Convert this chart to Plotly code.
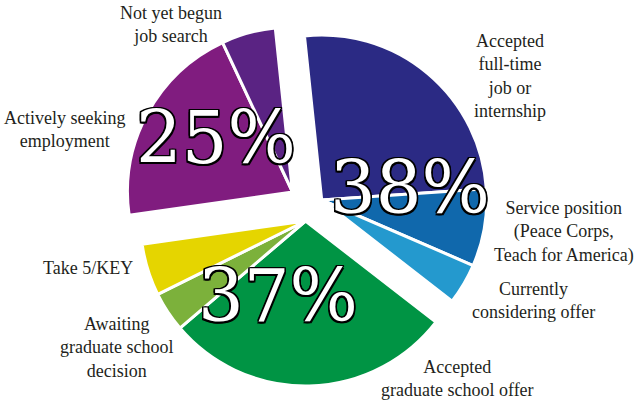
import plotly.graph_objects as go

# Data
categories = ["Accepted full-time job or internship",
              "Service position (Peace Corps, Teach for America)",
              "Currently considering offer",
              "Accepted graduate school offer",
              "Awaiting graduate school decision",
              "Take 5/KEY",
              "Actively seeking employment",
              "Not yet begun job search"]
values = [25.6, 7.6, 4.0, 28.3, 3.9, 5.1, 20.3, 5.3]
colors = ["#2B2A84", "#1068AC", "#2499CE", "#009444",
          "#7CB13B", "#E5D500", "#801C7F", "#5A2383"]
groups = [0, 0, 0, 1, 1, 1, 2, 2]
group_labels = ["38%", "37%", "25%"]

W, H = 640, 403
R = 165
centres = [(321.7, 200.0), (305.5, 221.0), (292.5, 192.0)]

fig = go.Figure()
for g, (cx, cy) in enumerate(centres):
    cols = [c if grp == g else "rgba(0,0,0,0)" for c, grp in zip(colors, groups)]
    lw = [3 if grp == g else 0 for grp in groups]
    fig.add_trace(go.Pie(
        labels=categories, values=values, sort=False, direction="clockwise",
        rotation=-6, textinfo="none", hoverinfo="skip", showlegend=False,
        marker=dict(colors=cols, line=dict(color="white", width=lw)),
        domain=dict(x=[(cx - R) / W, (cx + R) / W],
                    y=[1 - (cy + R) / H, 1 - (cy - R) / H]),
    ))

label_font = dict(family="Liberation Serif", size=18, color="#231F20")
cat_labels = [
    ("Accepted<br>full-time<br>job or<br>internship", 510, 76),
    ("Service position<br>(Peace Corps,<br>Teach for America)", 564, 232),
    ("Currently<br>considering offer", 533, 300),
    ("Accepted<br>graduate school offer", 457, 378),
    ("Awaiting<br>graduate school<br>decision", 116, 347),
    ("Take 5/KEY", 88, 268),
    ("Actively seeking<br>employment", 64, 130),
    ("Not yet begun<br>job search", 171, 24),
]
for txt, px, py in cat_labels:
    fig.add_annotation(text=txt, x=px / W, y=1 - py / H, xref="paper", yref="paper",
                       xanchor="center", yanchor="middle", showarrow=False,
                       font=label_font, align="center")

SH = "1.5px 1.5px 0 #000, -1.5px -1.5px 0 #000, 1.5px -1.5px 0 #000, -1.5px 1.5px 0 #000, 0 1.5px 0 #000, 0 -1.5px 0 #000, 1.5px 0 0 #000, -1.5px 0 0 #000"
big_font = dict(family="DejaVu Serif", size=72, color="white", shadow=SH)
big_pos = [(410, 188), (278, 296), (216, 138)]
for txt, (px, py) in zip(group_labels, big_pos):
    fig.add_annotation(text=txt, x=px / W, y=1 - py / H, xref="paper", yref="paper",
                       xanchor="center", yanchor="middle", showarrow=False, font=big_font)

fig.update_layout(width=W, height=H, margin=dict(l=0, r=0, t=0, b=0),
                  paper_bgcolor="white", plot_bgcolor="white")
fig.write_html("out.html", config={"displayModeBar": False},
               post_script="document.body.style.margin='0';")
